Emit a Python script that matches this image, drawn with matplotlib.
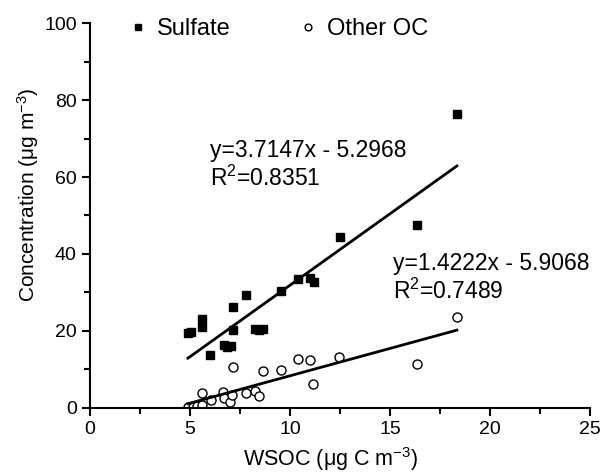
import matplotlib
matplotlib.use("Agg")
import matplotlib.pyplot as plt
import numpy as np
from matplotlib.ticker import MultipleLocator

plt.rcParams['font.family'] = ['Liberation Sans', 'DejaVu Sans']
plt.rcParams['mathtext.fontset'] = 'custom'
plt.rcParams['mathtext.rm'] = 'Liberation Sans'
plt.rcParams['mathtext.it'] = 'Liberation Sans:italic'
plt.rcParams['mathtext.default'] = 'regular'

sulfate_x = [4.9, 5.05, 5.6, 5.6, 6.0, 6.7, 6.85, 7.05, 7.15, 7.15, 7.8, 8.25, 8.45, 8.65, 9.55, 10.4, 11.0, 11.2, 12.5, 16.35, 18.35]
sulfate_y = [19.5, 19.6, 23.0, 21.0, 13.7, 16.4, 15.8, 16.1, 26.2, 20.1, 29.4, 20.6, 20.1, 20.5, 30.3, 33.6, 33.8, 32.7, 44.5, 47.6, 76.5]

oc_x = [4.9, 5.15, 5.35, 5.6, 5.6, 6.05, 6.65, 6.7, 7.0, 7.1, 7.15, 7.8, 8.25, 8.45, 8.65, 9.55, 10.4, 11.0, 11.15, 12.45, 16.35, 18.35]
oc_y = [0.2, 0.3, 0.5, 0.8, 3.8, 2.0, 4.0, 2.5, 1.6, 3.4, 10.6, 3.8, 4.4, 3.1, 9.6, 9.8, 12.8, 12.5, 6.3, 13.1, 11.5, 23.6]

fit_slope = [3.7147, 1.4222]
fit_intercept = [-5.2968, -5.9068]

fig = plt.figure(figsize=(6, 4.72), dpi=100)
ax = fig.add_axes([0.15, 0.136, 0.833, 0.815])

ax.plot(sulfate_x, sulfate_y, linestyle='none', marker='s', ms=6, color='black', label='Sulfate')
ax.plot(oc_x, oc_y, linestyle='none', marker='o', ms=6.5, mfc='white', mec='black', mew=1.0, label='Other OC')

for xs, m, b in [(sulfate_x, fit_slope[0], fit_intercept[0]), (oc_x, fit_slope[1], fit_intercept[1])]:
    xx = np.array([min(xs), max(xs)])
    ax.plot(xx, m * xx + b, color='black', lw=2.0)

fs_ann = 16.5
ax.text(6.0, 65.3, "y=3.7147x - 5.2968", fontsize=fs_ann, va='baseline', ha='left')
ax.text(6.0, 57.8, "R$^2$=0.8351", fontsize=fs_ann, va='baseline', ha='left')
ax.text(15.15, 35.7, "y=1.4222x - 5.9068", fontsize=fs_ann, va='baseline', ha='left')
ax.text(15.15, 28.4, "R$^2$=0.7489", fontsize=fs_ann, va='baseline', ha='left')

ax.set_xlim(0, 25)
ax.set_ylim(0, 100)
ax.xaxis.set_major_locator(MultipleLocator(5))
ax.xaxis.set_minor_locator(MultipleLocator(2.5))
ax.yaxis.set_major_locator(MultipleLocator(20))
ax.yaxis.set_minor_locator(MultipleLocator(10))

for s in ['top', 'right']:
    ax.spines[s].set_visible(False)
for s in ['left', 'bottom']:
    ax.spines[s].set_linewidth(1.5)
ax.tick_params(which='major', direction='out', length=6, width=1.5, labelsize=14)
ax.tick_params(which='minor', direction='out', length=4, width=1.5)

ax.set_xlabel("WSOC (μg C m$^{-3}$)", fontsize=15.5)
ax.set_ylabel("Concentration (μg m$^{-3}$)", fontsize=15)
ax.xaxis.set_label_coords(0.481, -0.098)
ax.yaxis.set_label_coords(-0.098, 0.553)

leg = ax.legend(loc='center left', bbox_to_anchor=(0.072, 0.984), ncol=2, frameon=False,
                fontsize=17, markerscale=0.75, handlelength=1.0, handletextpad=0.3,
                columnspacing=2.8, borderpad=0, borderaxespad=0)

fig.savefig("out.png", dpi=100)
